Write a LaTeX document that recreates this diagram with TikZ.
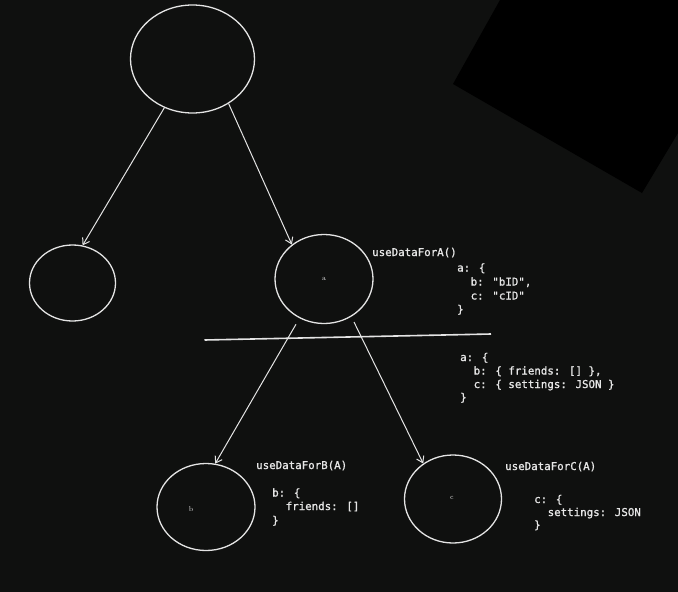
\documentclass[tikz,border=0pt]{standalone}
\usepackage{fontspec}
\newfontfamily\codefont[FakeBold=1.2]{DejaVu Sans Mono}
\usetikzlibrary{arrows.meta,shapes.geometric}
\definecolor{bg}{HTML}{0F100F}
\definecolor{ink}{HTML}{E4E4E4}
\definecolor{txt}{HTML}{E6E6E6}
\tikzset{
  bubble/.style={ellipse, draw=ink, line width=1.3pt, inner sep=0pt},
  link/.style={draw=ink, line width=1pt, -{Straight Barb[length=6pt,width=8pt,line width=1pt]}},
  code/.style={font=\codefont\fontsize{10.8}{14}\selectfont, text=txt, anchor=base west, inner sep=0pt},
  tag/.style={font=\fontsize{7}{8}\selectfont, text=txt, inner sep=0pt}
}
\begin{document}
\begin{tikzpicture}[x=1pt,y=-1pt]
\fill[bg] (0,0) rectangle (678,592);
\useasboundingbox (0,0) rectangle (678,592);
\fill[black] (500,0) -- (678,0) -- (678,133) -- (642,193) -- (453,84) -- cycle;

\node[bubble, minimum width=124pt, minimum height=108pt] (top) at (192.5,59) {};
\node[bubble, minimum width=86pt, minimum height=76pt] (left) at (72.5,283) {};
\node[bubble, minimum width=98pt, minimum height=89pt] (a) at (324,279) {};
\node[bubble, minimum width=98pt, minimum height=87pt] (b) at (206,507) {};
\node[bubble, minimum width=97pt, minimum height=88pt] (c) at (453,499) {};

\node[tag] (la) at (324,279) {a};
\node[tag] (lb) at (191,509.5) {b};
\node[tag] (lc) at (452,498) {c};

\draw[link] (top.240) -- (left.75);
\draw[link] (top.309) -- (a.133);
\draw[link, shorten <=7pt] (a.238) -- (b.78);
\draw[link, shorten <=6pt] (a.306) -- (c.130);

\coordinate (hl) at (204.5,340);
\coordinate (hr) at (491,334);
\draw[ink, line width=1.6pt] (hl) -- (hr);

\node[code] (fa) at (372,256) {useDataForA()};
\node[code] (a1) at (457,271.5) {a: \{};
\node[code] (a2) at (470.5,285.5) {b: "bID",};
\node[code] (a3) at (470.5,299.5) {c: "cID"};
\node[code] (a4) at (457,313) {\}};

\node[code] (m1) at (460,361) {a: \{};
\node[code] (m2) at (473.5,374.5) {b: \{ friends: [] \},};
\node[code] (m3) at (473.5,388) {c: \{ settings: JSON \}};
\node[code] (m4) at (460,401) {\}};

\node[code] (fb) at (256,469) {useDataForB(A)};
\node[code] (b1) at (272,496.5) {b: \{};
\node[code] (b2) at (285.5,510) {friends: []};
\node[code] (b3) at (272,524) {\}};

\node[code] (fc) at (505,470) {useDataForC(A)};
\node[code] (c1) at (534,503) {c: \{};
\node[code] (c2) at (547.5,516) {settings: JSON};
\node[code] (c3) at (534,528.5) {\}};
\end{tikzpicture}
\end{document}
